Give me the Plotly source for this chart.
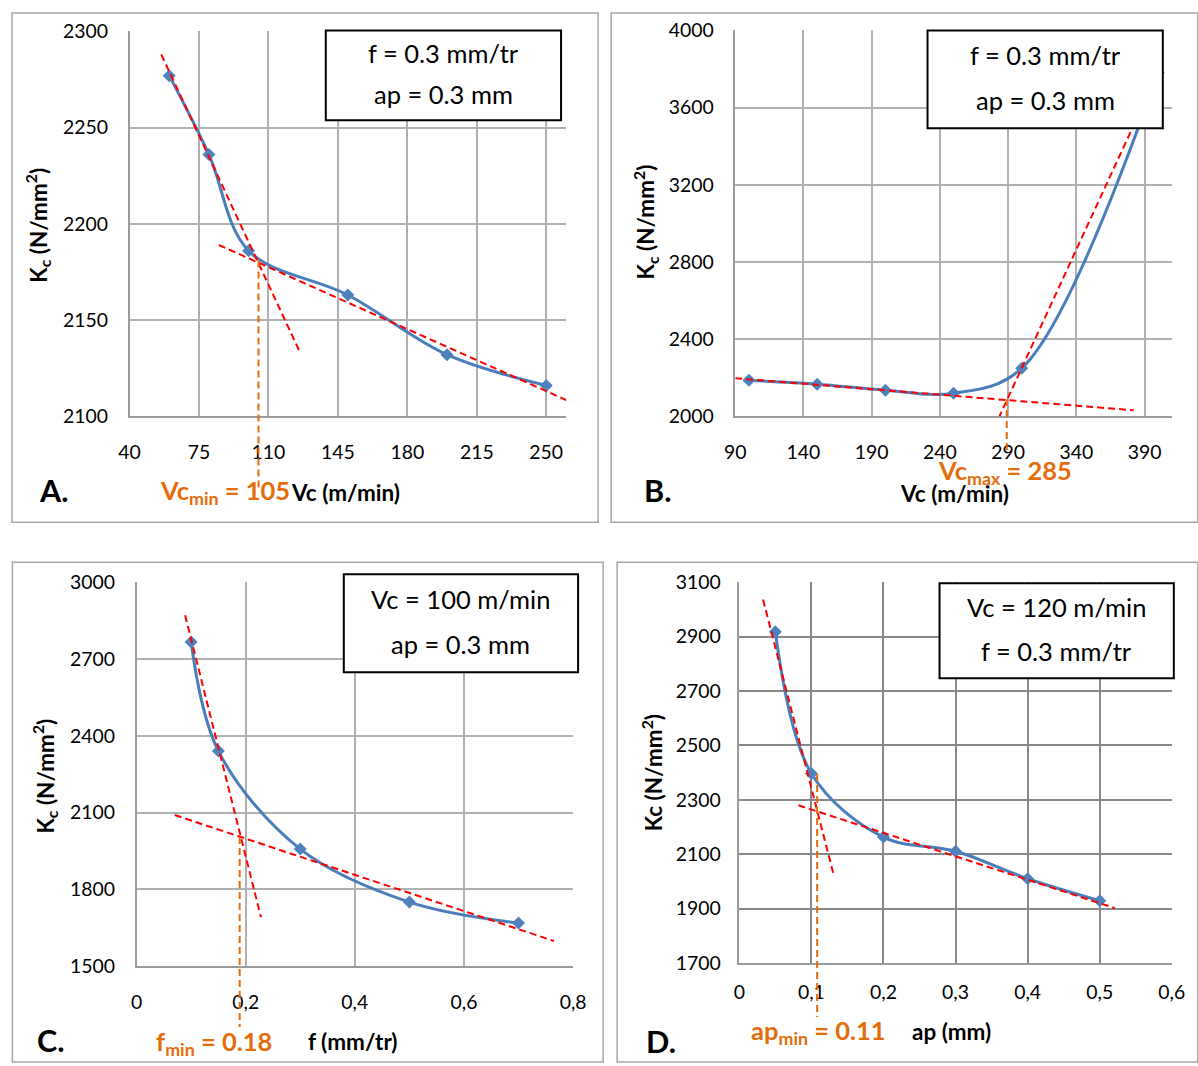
import plotly.graph_objects as go

# The rendering pipeline shows the page slightly shrunk and shifted; positions
# below are given in target-picture pixels and mapped through this correction.
S = 0.979
O = 11.6
W, H = 1212, 1077
FONT = "Lato"
BLUE_LINE = "#4A7EBB"
BLUE_MARK = "#4F81BD"
RED = "#FF0000"
ORANGE = "#E46C0A"

# ---------------- data ----------------
# Panel A : Kc vs Vc  (f = 0.3, ap = 0.3)
A_VC = [60, 80, 100, 150, 200, 250]
A_KC = [2277, 2236, 2186, 2163, 2132, 2116]
A_T1_X = [56, 126]
A_T1_Y = [2288, 2133]
A_T2_X = [85, 261]
A_T2_Y = [2189, 2108]
A_OPT_X = 105
A_OPT_Y = 2181
A_XTICKS = [40, 75, 110, 145, 180, 215, 250]
A_YTICKS = [2100, 2150, 2200, 2250, 2300]

# Panel B : Kc vs Vc  (f = 0.3, ap = 0.3)
B_VC = [100, 150, 200, 250, 300, 400]
B_KC = [2186, 2166, 2135, 2119, 2249, 3780]
B_T1_X = [90, 382]
B_T1_Y = [2197, 2031]
B_T2_X = [283, 404]
B_T2_Y = [1990, 3845]
B_OPT_X = 289
B_OPT_Y = 2090
B_XTICKS = [90, 140, 190, 240, 290, 340, 390]
B_YTICKS = [2000, 2400, 2800, 3200, 3600, 4000]

# Panel C : Kc vs f  (Vc = 100, ap = 0.3)
C_F = [0.1, 0.15, 0.3, 0.5, 0.7]
C_KC = [2766, 2340, 1957, 1750, 1668]
C_T1_X = [0.089, 0.228]
C_T1_Y = [2871, 1691]
C_T2_X = [0.070, 0.765]
C_T2_Y = [2090, 1598]
C_OPT_X = 0.189
C_OPT_Y = 2004
C_XTICKS = [0, 0.2, 0.4, 0.6, 0.8]
C_YTICKS = [1500, 1800, 2100, 2400, 2700, 3000]

# Panel D : Kc vs ap  (Vc = 120, f = 0.3)
D_AP = [0.05, 0.1, 0.2, 0.3, 0.4, 0.5]
D_KC = [2918, 2397, 2163, 2111, 2010, 1929]
D_T1_X = [0.033, 0.131]
D_T1_Y = [3036, 2023]
D_T2_X = [0.082, 0.521]
D_T2_Y = [2280, 1902]
D_OPT_X = 0.108
D_OPT_Y = 2395
D_XTICKS = [0, 0.1, 0.2, 0.3, 0.4, 0.5, 0.6]
D_YTICKS = [1700, 1900, 2100, 2300, 2500, 2700, 2900, 3100]


def px(x):
    return max(1.0, (x - O) / S) / W


def py(y):
    return 1 - max(1.0, (y - O) / S) / H


def fs(size):
    return round(size / S, 1)


panels = [
    dict(xa="x", ya="y", x=A_VC, y=A_KC, t1=(A_T1_X, A_T1_Y), t2=(A_T2_X, A_T2_Y),
         opt=(A_OPT_X, A_OPT_Y), xr=[40, 260], yr=[2100, 2300], xt=A_XTICKS, yt=A_YTICKS,
         dx=(130, 566), dy=(31, 416), grid="#b0b0b0", gw=1.5, obot=488,
         xso=18, yso=16,
         border=(7, 10, 598, 522),
         box=(326, 30, 561, 120), l1="f = 0.3 mm/tr", l2="ap = 0.3 mm",
         ytitle="K<sub>c</sub> (N/mm<sup>2</sup>)", ytpos=(38, 225),
         letter="A.", lpos=(55, 490),
         olab="Vc<sub>min</sub> = 105", opos=(158, 492),
         xtitle="Vc (m/min)", xtpos=(289, 492), xanc="left"),
    dict(xa="x2", ya="y2", x=B_VC, y=B_KC, t1=(B_T1_X, B_T1_Y), t2=(B_T2_X, B_T2_Y),
         opt=(B_OPT_X, B_OPT_Y), xr=[90, 410], yr=[2000, 4000], xt=B_XTICKS, yt=B_YTICKS,
         dx=(735, 1171), dy=(30, 416), grid="#b0b0b0", gw=1.5, obot=453,
         xso=18, yso=16,
         border=(611, 10, 1197, 522),
         box=(927, 30, 1162, 128), l1="f = 0.3 mm/tr", l2="ap = 0.3 mm",
         ytitle="K<sub>c</sub> (N/mm<sup>2</sup>)", ytpos=(645, 222),
         letter="B.", lpos=(657, 490),
         olab="Vc<sub>max</sub> = 285", opos=(935, 472),
         xtitle="Vc (m/min)", xtpos=(954, 493), xanc="center"),
    dict(xa="x3", ya="y3", x=C_F, y=C_KC, t1=(C_T1_X, C_T1_Y), t2=(C_T2_X, C_T2_Y),
         opt=(C_OPT_X, C_OPT_Y), xr=[0, 0.8], yr=[1500, 3000], xt=C_XTICKS, yt=C_YTICKS,
         dx=(137, 573), dy=(582, 966), grid="#b0b0b0", gw=1.5, obot=1027,
         xso=18, yso=16,
         border=(13, 562, 603, 1062),
         box=(344, 574, 578, 672), l1="Vc = 100 m/min", l2="ap = 0.3 mm",
         ytitle="K<sub>c</sub> (N/mm<sup>2</sup>)", ytpos=(45, 776),
         letter="C.", lpos=(52, 1040),
         olab="f<sub>min</sub> = 0.18", opos=(154, 1043),
         xtitle="f (mm/tr)", xtpos=(306, 1041), xanc="left"),
    dict(xa="x4", ya="y4", x=D_AP, y=D_KC, t1=(D_T1_X, D_T1_Y), t2=(D_T2_X, D_T2_Y),
         opt=(D_OPT_X, D_OPT_Y), xr=[0, 0.6], yr=[1700, 3100], xt=D_XTICKS, yt=D_YTICKS,
         dx=(739, 1171), dy=(582, 963), grid="#888888", gw=2, obot=1017,
         xso=11, yso=13,
         border=(617, 562, 1197, 1062),
         box=(939, 583, 1173, 678), l1="Vc = 120 m/min", l2="f = 0.3 mm/tr",
         ytitle="Kc (N/mm<sup>2</sup>)", ytpos=(652, 773),
         letter="D.", lpos=(661, 1041),
         olab="ap<sub>min</sub> = 0.11", opos=(749, 1032),
         xtitle="ap (mm)", xtpos=(910, 1031), xanc="left"),
]

fig = go.Figure()
shapes = []
annotations = []
layout_axes = {}

for i, p in enumerate(panels):
    # blue smoothed curve with diamonds
    fig.add_trace(go.Scatter(
        x=p["x"], y=p["y"], xaxis=p["xa"], yaxis=p["ya"], mode="lines+markers",
        line=dict(color=BLUE_LINE, width=3, shape="spline", smoothing=1),
        marker=dict(symbol="diamond", size=10, color=BLUE_MARK),
        showlegend=False, hoverinfo="skip", cliponaxis=False))
    # red dashed trend lines
    for tx, ty in (p["t1"], p["t2"]):
        fig.add_trace(go.Scatter(
            x=tx, y=ty, xaxis=p["xa"], yaxis=p["ya"], mode="lines",
            line=dict(color=RED, width=2, dash="7px,4px"),
            showlegend=False, hoverinfo="skip"))

    xn = p["xa"].replace("x", "xaxis")
    yn = p["ya"].replace("y", "yaxis")
    ymin, ymax = p["yr"]
    layout_axes[xn] = dict(
        domain=[px(p["dx"][0]), px(p["dx"][1])], range=p["xr"], anchor=p["ya"],
        tickvals=p["xt"], showgrid=True, gridcolor=p["grid"], gridwidth=p["gw"],
        showline=True, linecolor="#9a9a9a", linewidth=1.5, zeroline=False,
        ticks="", ticklabelstandoff=p["xso"],
        tickfont=dict(family=FONT, size=fs(19), color="#000000"))
    layout_axes[yn] = dict(
        domain=[py(p["dy"][1]), py(p["dy"][0])], range=p["yr"], anchor=p["xa"],
        tickvals=p["yt"], showgrid=True, gridcolor=p["grid"], gridwidth=p["gw"],
        showline=True, linecolor="#9a9a9a", linewidth=1.5, zeroline=False,
        ticks="", ticklabelstandoff=p["yso"],
        tickfont=dict(family=FONT, size=fs(19), color="#000000"))

    # orange dashed vertical marking the optimum (goes below the axis)
    ox, oy = p["opt"]
    dom_h = p["dy"][1] - p["dy"][0]
    shapes.append(dict(
        type="line", xref=p["xa"], yref=p["ya"] + " domain",
        x0=ox, x1=ox, y0=(oy - ymin) / (ymax - ymin),
        y1=-(p["obot"] - p["dy"][1]) / dom_h,
        line=dict(color=ORANGE, width=2, dash="7px,4px"), layer="above"))

    # panel border
    bx0, by0, bx1, by1 = p["border"]
    shapes.append(dict(type="rect", xref="paper", yref="paper",
                       x0=px(bx0), x1=px(bx1), y0=py(by1), y1=py(by0),
                       line=dict(color="#a6a6a6", width=1.5), layer="below"))
    # parameter box
    cx0, cy0, cx1, cy1 = p["box"]
    shapes.append(dict(type="rect", xref="paper", yref="paper",
                       x0=px(cx0), x1=px(cx1), y0=py(cy1), y1=py(cy0),
                       fillcolor="white", line=dict(color="#000000", width=2),
                       layer="above"))
    for k, txt in enumerate((p["l1"], p["l2"])):
        annotations.append(dict(
            xref="paper", yref="paper", x=px((cx0 + cx1) / 2),
            y=py(cy0 + (cy1 - cy0) * (0.25 + 0.46 * k)),
            text=txt, showarrow=False, xanchor="center", yanchor="middle",
            font=dict(family=FONT, size=fs(25), color="#000000")))

    # y title
    annotations.append(dict(
        xref="paper", yref="paper", x=px(p["ytpos"][0]), y=py(p["ytpos"][1]),
        text="<b>" + p["ytitle"] + "</b>", showarrow=False, textangle=-90,
        xanchor="center", yanchor="middle",
        font=dict(family=FONT, size=fs(22), color="#000000")))
    # x title
    annotations.append(dict(
        xref="paper", yref="paper", x=px(p["xtpos"][0]), y=py(p["xtpos"][1]),
        text="<b>" + p["xtitle"] + "</b>", showarrow=False,
        xanchor=p["xanc"], yanchor="middle",
        font=dict(family=FONT, size=fs(22), color="#000000")))
    # orange label
    annotations.append(dict(
        xref="paper", yref="paper", x=px(p["opos"][0]), y=py(p["opos"][1]),
        text="<b>" + p["olab"] + "</b>", showarrow=False,
        xanchor="left", yanchor="middle",
        font=dict(family=FONT, size=fs(25), color=ORANGE)))
    # panel letter
    annotations.append(dict(
        xref="paper", yref="paper", x=px(p["lpos"][0]), y=py(p["lpos"][1]),
        text="<b>" + p["letter"] + "</b>", showarrow=False,
        xanchor="center", yanchor="middle",
        font=dict(family=FONT, size=fs(30), color="#000000")))

fig.update_layout(
    width=W, height=H, margin=dict(l=0, r=0, t=0, b=0),
    paper_bgcolor="white", plot_bgcolor="white",
    separators=", ", showlegend=False,
    font=dict(family=FONT, color="#000000"),
    shapes=shapes, annotations=annotations, **layout_axes)

fig.write_html(
    "out.html",
    config={"displayModeBar": False},
    post_script="document.body.style.margin='0';document.body.style.overflow='hidden';")
